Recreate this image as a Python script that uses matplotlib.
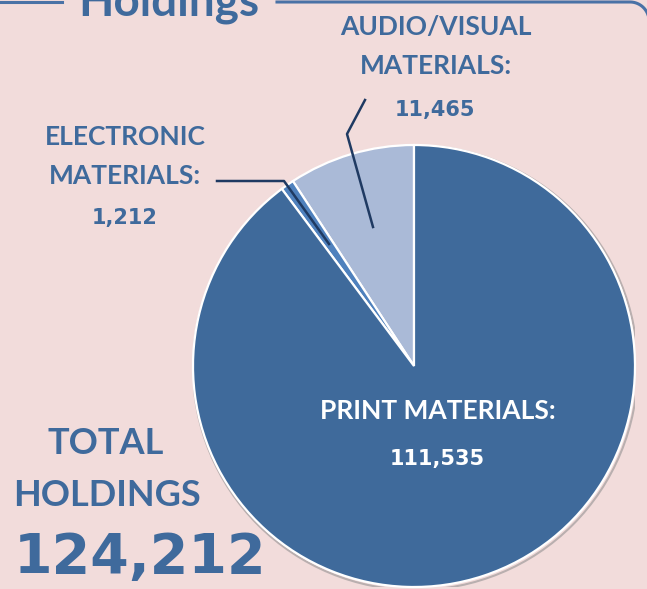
import numpy as np
import matplotlib.pyplot as plt
from matplotlib.patches import Circle
from matplotlib.lines import Line2D

W, H = 647, 589

categories = ["AUDIO/VISUAL\nMATERIALS:", "ELECTRONIC\nMATERIALS:", "PRINT MATERIALS:"]
values = [11465, 1212, 111535]
value_labels = ["11,465", "1,212", "111,535"]
total_label = "124,212"
colors = ["#AABAD7", "#4F81BD", "#3F6A9B"]

BG = "#F2DCDB"
TXT = "#3F6A9C"
LEAD = "#1F3A62"
FRAME = "#4A72A6"
FONT = "Lato"
NUMFONT = "DejaVu Sans"


def fx(x):
    return x / W


def fy(y):
    return 1 - y / H


fig = plt.figure(figsize=(W / 100, H / 100), dpi=100)
fig.patch.set_facecolor(BG)

# frame: top line broken by the title, rounded corner running off the right edge
rad = 19
t = np.linspace(np.pi / 2, 0, 30)
arc_x = 630 + rad * np.cos(t)
arc_y = 2 + rad - rad * np.sin(t)
top_x = np.concatenate([[277], arc_x, [630 + rad]])
top_y = np.concatenate([[2], arc_y, [H + 10]])
fig.add_artist(Line2D(fx(top_x), fy(top_y), transform=fig.transFigure,
                      color=FRAME, linewidth=2.2))
fig.add_artist(Line2D([fx(-5), fx(62)], [fy(2), fy(2)], transform=fig.transFigure,
                      color=FRAME, linewidth=2.2))
fig.text(fx(169), fy(15), "Holdings", ha="center", va="baseline",
         fontsize=33, fontweight="bold", color=TXT, family=FONT, zorder=3)

# pie
cx, cy, r = 414, 366, 221
ax = fig.add_axes([fx(cx - r), fy(cy + r), (2 * r) / W, (2 * r) / H])
ax.add_patch(Circle((0.006, -0.008), 1.006, facecolor="none",
                    edgecolor="#B9AFAF", linewidth=1.5, zorder=0))
ax.pie(values, colors=colors, startangle=90, counterclock=True,
       wedgeprops=dict(edgecolor="white", linewidth=1.6))
ax.set_xlim(-1.0, 1.0)
ax.set_ylim(-1.0, 1.0)
ax.set_aspect("auto")
ax.axis("off")

# leader lines
fig.add_artist(Line2D([fx(365), fx(347), fx(373)], [fy(100), fy(134), fy(227)],
                      transform=fig.transFigure, color=LEAD, linewidth=1.8))
fig.add_artist(Line2D([fx(217), fx(284), fx(329)], [fy(181), fy(181), fy(244)],
                      transform=fig.transFigure, color=LEAD, linewidth=1.8))

lab = dict(ha="center", va="center", fontweight="bold", family=FONT)
num = dict(ha="center", va="center", fontweight="bold", family=NUMFONT)

fig.text(fx(436), fy(46), categories[0], fontsize=19, color=TXT,
         linespacing=1.75, **lab)
fig.text(fx(435), fy(110), value_labels[0], fontsize=15, color=TXT, **num)

fig.text(fx(125), fy(156), categories[1], fontsize=19, color=TXT,
         linespacing=1.75, **lab)
fig.text(fx(125), fy(218), value_labels[1], fontsize=15, color=TXT, **num)

fig.text(fx(438), fy(411), categories[2], fontsize=19, color="white", **lab)
fig.text(fx(437), fy(459), value_labels[2], fontsize=15, color="white", **num)

fig.text(fx(106), fy(443), "TOTAL", fontsize=26, color=TXT, **lab)
fig.text(fx(107), fy(495), "HOLDINGS", fontsize=26, color=TXT, **lab)
fig.text(fx(140), fy(558), total_label, fontsize=40, color=TXT, **num)

fig.savefig("out.png", dpi=100, facecolor=BG)
